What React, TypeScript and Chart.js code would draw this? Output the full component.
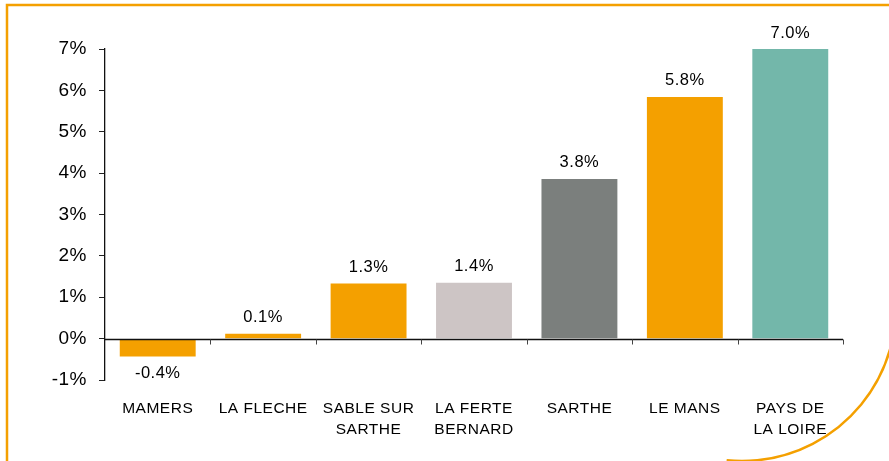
import React, { useEffect, useRef } from "react";
import { Chart, registerables } from "chart.js";

Chart.register(...registerables);

const categories: (string | string[])[] = [
  "MAMERS",
  "LA FLECHE",
  ["SABLE SUR", "SARTHE"],
  ["LA FERTE", "BERNARD"],
  "SARTHE",
  "LE MANS",
  ["PAYS DE", "LA LOIRE"],
];
const values = [-0.43, 0.12, 1.33, 1.35, 3.86, 5.84, 7.0];
const valueLabels = ["-0.4%", "0.1%", "1.3%", "1.4%", "3.8%", "5.8%", "7.0%"];
const barColors = ["#F4A000", "#F4A000", "#F4A000", "#CDC5C5", "#7B7F7D", "#F4A000", "#73B7AA"];
const yMin = -1;
const yMax = 7;
const yStep = 1;

const FONT = "'Liberation Sans', Arial, sans-serif";
const FRAME = "#F4A000";

const framePlugin = {
  id: "frame",
  beforeDraw(chart: any) {
    chart.ctx.letterSpacing = "0.5px";
  },
  afterDraw(chart: any) {
    const ctx = chart.ctx;
    ctx.save();
    ctx.strokeStyle = FRAME;
    ctx.lineWidth = 2.5;
    ctx.beginPath();
    ctx.moveTo(7, chart.height);
    ctx.lineTo(7, 5);
    ctx.lineTo(chart.width, 5);
    ctx.stroke();
    ctx.beginPath();
    ctx.arc(742, 307, 154, -0.1, Math.PI / 2 + 0.1);
    ctx.stroke();
    ctx.restore();
  },
};

const axisPlugin = {
  id: "zeroAxis",
  afterDatasetsDraw(chart: any) {
    const ctx = chart.ctx;
    const { left, right } = chart.chartArea;
    const y0 = Math.round(chart.scales.y.getPixelForValue(0)) + 0.5;
    ctx.save();
    ctx.strokeStyle = "#111";
    ctx.lineWidth = 1.3;
    ctx.beginPath();
    ctx.moveTo(left, y0);
    ctx.lineTo(right, y0);
    ctx.stroke();
    const n = categories.length;
    ctx.strokeStyle = "#444";
    ctx.lineWidth = 1;
    for (let i = 1; i <= n; i++) {
      const x = Math.round(left + ((right - left) * i) / n) + 0.5;
      ctx.beginPath();
      ctx.moveTo(x, y0);
      ctx.lineTo(x, y0 + 5);
      ctx.stroke();
    }
    const meta = chart.getDatasetMeta(0);
    ctx.fillStyle = "#000";
    ctx.font = `16.5px ${FONT}`;
    ctx.textAlign = "center";
    ctx.textBaseline = "alphabetic";
    meta.data.forEach((bar: any, i: number) => {
      const v = values[i];
      const ty = v >= 0 ? bar.y - 11.5 : bar.y + 22;
      ctx.fillText(valueLabels[i], bar.x, ty);
    });
    ctx.restore();
  },
};

export default function App() {
  const ref = useRef<HTMLCanvasElement>(null);
  useEffect(() => {
    if (!ref.current) return;
    const chart = new Chart(ref.current, {
      type: "bar",
      data: {
        labels: categories as any,
        datasets: [
          {
            data: values,
            backgroundColor: barColors,
            borderWidth: 0,
            barPercentage: 0.72,
            categoryPercentage: 1,
          },
        ],
      },
      options: {
        animation: false,
        responsive: false,
        devicePixelRatio: 1,
        layout: { padding: { top: 49, right: 46, bottom: 0, left: 0 } },
        plugins: { legend: { display: false }, tooltip: { enabled: false } },
        scales: {
          x: {
            grid: { display: false, drawTicks: false, tickLength: 0 },
            border: { display: false },
            ticks: {
              color: "#000",
              padding: 18.5,
              maxRotation: 0,
              autoSkip: false,
              font: { family: FONT, size: 15.5, lineHeight: 1.36 },
            },
            afterFit(s: any) {
              s.height = 81;
            },
          },
          y: {
            min: yMin,
            max: yMax,
            grid: { display: true, drawOnChartArea: false, drawTicks: true, tickLength: 6, color: "#222" },
            border: { display: true, color: "#111", width: 1.3 },
            ticks: {
              stepSize: yStep,
              color: "#000",
              padding: 12,
              font: { family: FONT, size: 19 },
              callback: (v: any) => `${v}%`,
            },
            afterFit(s: any) {
              s.width = 105;
            },
          },
        },
      },
      plugins: [framePlugin, axisPlugin],
    });
    return () => chart.destroy();
  }, []);
  return (
    <div style={{ position: "fixed", left: 0, top: 0, width: 889, height: 461, background: "#fff" }}>
      <canvas ref={ref} width={889} height={461} style={{ display: "block" }} />
    </div>
  );
}
